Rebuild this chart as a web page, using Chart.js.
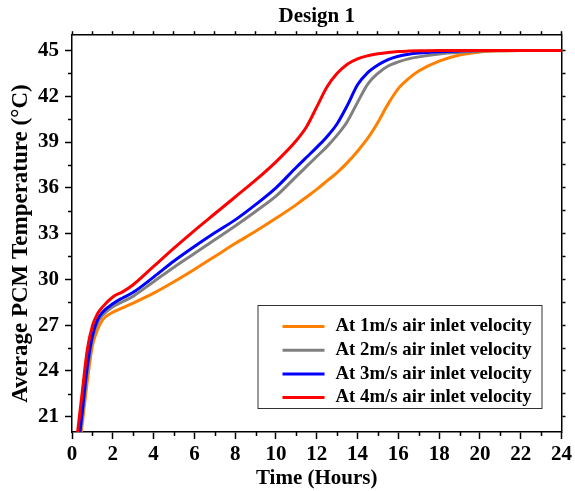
<!DOCTYPE html>
<html>
<head>
<meta charset="utf-8">
<title>Design 1</title>
<script src="https://cdn.jsdelivr.net/npm/chart.js@4.4.1/dist/chart.umd.min.js"></script>
<style>
  html, body { margin: 0; padding: 0; background: #fff; }
</style>
</head>
<body>
<canvas id="chart" width="575" height="491"></canvas>
<script>
// Datos (tiempo en horas, temperatura en °C)
const hours = [0.25, 0.5, 0.75, 1, 1.25, 1.5, 2, 2.5, 3, 4, 5, 6, 7, 8, 9, 10, 11, 11.5, 12, 12.5,
               13, 13.5, 14, 14.5, 15, 15.5, 16, 16.5, 17, 18, 19, 20, 21, 22, 24];

const temp1ms = [17.8, 20.5, 23.3, 25.65, 26.7, 27.35, 27.85, 28.15, 28.45, 29.1, 29.85, 30.65, 31.5, 32.35, 33.15,
                 34.0, 34.9, 35.4, 35.9, 36.45, 37.0, 37.65, 38.4, 39.25, 40.3, 41.5, 42.5, 43.15, 43.65,
                 44.3, 44.7, 44.9, 44.98, 45, 45];
const temp2ms = [18.1, 21.0, 24.0, 26.1, 27.15, 27.65, 28.2, 28.55, 28.9, 29.85, 30.8, 31.7, 32.6, 33.5, 34.45,
                 35.45, 36.75, 37.4, 38.05, 38.7, 39.45, 40.35, 41.6, 42.8, 43.5, 43.98, 44.25, 44.45, 44.58,
                 44.77, 44.88, 44.95, 44.98, 45, 45];
const temp3ms = [18.4, 21.3, 24.3, 26.3, 27.35, 27.85, 28.4, 28.8, 29.15, 30.15, 31.2, 32.15, 33.05, 33.9, 34.9,
                 36.0, 37.35, 38.0, 38.65, 39.35, 40.2, 41.4, 42.75, 43.55, 44.05, 44.4, 44.62, 44.75, 44.83,
                 44.92, 44.97, 45, 45, 45, 45];
const temp4ms = [19.7, 22.6, 25.4, 26.95, 27.75, 28.2, 28.85, 29.2, 29.65, 30.85, 32.05, 33.2, 34.3, 35.4, 36.5,
                 37.7, 39.1, 40.0, 41.3, 42.6, 43.5, 44.1, 44.45, 44.65, 44.78, 44.87, 44.93, 44.96, 44.98,
                 45, 45, 45, 45, 45, 45];

const seriesLabels = [
    'At 1m/s air inlet velocity',
    'At 2m/s air inlet velocity',
    'At 3m/s air inlet velocity',
    'At 4m/s air inlet velocity'
];
const seriesColors = ['#FF8000', '#808080', '#0000FF', '#FF0000'];

const xMajorTicks = [0, 2, 4, 6, 8, 10, 12, 14, 16, 18, 20, 22, 24];
const xMinorTicks = [1, 3, 5, 7, 9, 11, 13, 15, 17, 19, 21, 23];
const yMajorTicks = [21, 24, 27, 30, 33, 36, 39, 42, 45];
const yMinorTicks = [22.5, 25.5, 28.5, 31.5, 34.5, 37.5, 40.5, 43.5];

const FONT = '"Liberation Serif", "Times New Roman", serif';

const toPoints = vals => hours.map((h, i) => ({ x: h, y: vals[i] }));
const allSeries = [temp1ms, temp2ms, temp3ms, temp4ms];

// Marcas menores en los ejes inferior e izquierdo
const minorTicks = {
    id: 'minorTicks',
    afterDraw(chart) {
        const { ctx } = chart;
        const x = chart.scales.x, y = chart.scales.y;
        ctx.save();
        ctx.strokeStyle = '#000';
        ctx.lineWidth = 1.5;
        ctx.beginPath();
        xMinorTicks.forEach(v => {
            const px = Math.round(x.getPixelForValue(v)) + 0.5;
            ctx.moveTo(px, x.top);
            ctx.lineTo(px, x.top + 4);
        });
        yMinorTicks.forEach(v => {
            const py = Math.round(y.getPixelForValue(v)) + 0.5;
            ctx.moveTo(y.right - 4, py);
            ctx.lineTo(y.right, py);
        });
        ctx.stroke();
        ctx.restore();
    }
};

// Leyenda dentro del área del gráfico
const legendBox = {
    id: 'legendBox',
    afterDraw(chart) {
        const { ctx, chartArea } = chart;
        const x0 = chartArea.right - 304, y0 = chartArea.bottom - 127;
        ctx.save();
        ctx.fillStyle = '#fff';
        ctx.fillRect(x0, y0, 284, 103);
        ctx.strokeStyle = '#333';
        ctx.lineWidth = 1;
        ctx.strokeRect(x0 + 0.5, y0 + 0.5, 284, 103);
        ctx.font = 'bold 18.8px ' + FONT;
        ctx.textBaseline = 'middle';
        ctx.fillStyle = '#000';
        seriesLabels.forEach((lbl, i) => {
            const cy = y0 + 21.5 + i * 23.7;
            ctx.strokeStyle = seriesColors[i];
            ctx.lineWidth = 3;
            ctx.beginPath();
            ctx.moveTo(x0 + 25, cy);
            ctx.lineTo(x0 + 67, cy);
            ctx.stroke();
            ctx.fillText(lbl, x0 + 78, cy);
        });
        ctx.restore();
    }
};

// Título del eje Y
const yTitle = {
    id: 'yTitle',
    afterDraw(chart) {
        const { ctx, chartArea } = chart;
        ctx.save();
        ctx.translate(21, (chartArea.top + chartArea.bottom) / 2 + 10);
        ctx.rotate(-Math.PI / 2);
        ctx.font = 'bold 23px ' + FONT;
        ctx.textAlign = 'center';
        ctx.textBaseline = 'middle';
        ctx.fillStyle = '#000';
        ctx.fillText('Average PCM Temperature (°C)', 0, 0);
        ctx.restore();
    }
};

const tickFont = { family: FONT, size: 21, weight: 'bold' };
const axisBorder = { display: true, color: '#000', width: 1.5 };

const ctx = document.getElementById('chart').getContext('2d');
new Chart(ctx, {
    type: 'line',
    data: {
        datasets: allSeries.map((vals, i) => ({
            label: seriesLabels[i],
            data: toPoints(vals),
            borderColor: seriesColors[i],
            backgroundColor: seriesColors[i],
            borderWidth: 3,
            pointRadius: 0,
            fill: false,
            cubicInterpolationMode: 'monotone',
            order: 3 - i
        }))
    },
    options: {
        responsive: false,
        animation: false,
        layout: { padding: { left: 0, right: 8, top: 0, bottom: 0 } },
        plugins: {
            legend: { display: false },
            tooltip: { enabled: false },
            title: {
                display: true,
                text: 'Design 1',
                color: '#000',
                fullSize: false,
                font: { family: FONT, size: 21, weight: 'bold' },
                padding: { top: 4, bottom: 2 }
            }
        },
        scales: {
            x: {
                type: 'linear',
                position: 'bottom',
                min: 0,
                max: 24,
                afterBuildTicks: s => { s.ticks = xMajorTicks.map(v => ({ value: v })); },
                afterFit: s => { s.height = 59; },
                ticks: { color: '#000', font: tickFont, padding: 3, maxRotation: 0, autoSkip: false },
                grid: { drawOnChartArea: false, tickLength: 7, tickWidth: 1.5, tickColor: '#000' },
                border: axisBorder,
                title: {
                    display: true,
                    text: 'Time (Hours)',
                    color: '#000',
                    font: { family: FONT, size: 21, weight: 'bold' },
                    padding: { top: 0, bottom: 0 }
                }
            },
            x2: {
                type: 'linear',
                position: 'top',
                min: 0,
                max: 24,
                afterBuildTicks: s => { s.ticks = xMajorTicks.concat(xMinorTicks).map(v => ({ value: v })); },
                ticks: { display: false },
                grid: { drawOnChartArea: false, tickLength: 4, tickWidth: 1.5, tickColor: '#000' },
                border: axisBorder
            },
            y: {
                type: 'linear',
                position: 'left',
                min: 20,
                max: 46,
                afterBuildTicks: s => { s.ticks = yMajorTicks.map(v => ({ value: v })); },
                afterFit: s => { s.width = 72; },
                ticks: { color: '#000', font: tickFont, padding: 6 },
                grid: { drawOnChartArea: false, tickLength: 7, tickWidth: 1.5, tickColor: '#000' },
                border: axisBorder
            },
            y2: {
                type: 'linear',
                position: 'right',
                min: 20,
                max: 46,
                afterBuildTicks: s => { s.ticks = yMajorTicks.concat(yMinorTicks).map(v => ({ value: v })); },
                ticks: { display: false },
                grid: { drawOnChartArea: false, tickLength: 4, tickWidth: 1.5, tickColor: '#000' },
                border: axisBorder
            }
        }
    },
    plugins: [minorTicks, legendBox, yTitle]
});
</script>
</body>
</html>
